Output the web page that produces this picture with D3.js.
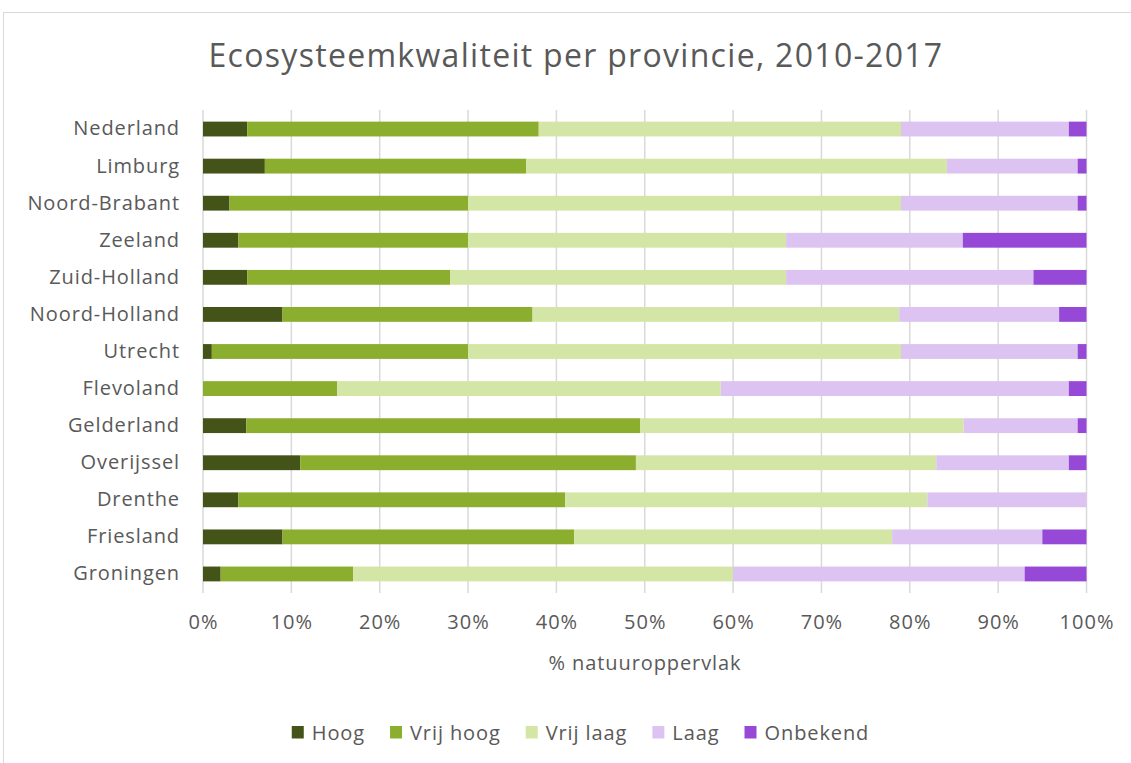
<!DOCTYPE html>
<html>
<head>
<meta charset="utf-8">
<script src="https://cdn.jsdelivr.net/npm/d3@7"></script>
<style>
  body { margin: 0; background: #fff; }
  text { font-family: "Open Sans", "Noto Sans", sans-serif; fill: #595959; }
</style>
</head>
<body>
<svg id="chart" width="1131" height="763"></svg>
<script>
// provinces, top to bottom
var provinces = ["Nederland", "Limburg", "Noord-Brabant", "Zeeland", "Zuid-Holland",
  "Noord-Holland", "Utrecht", "Flevoland", "Gelderland", "Overijssel", "Drenthe",
  "Friesland", "Groningen"];
var classes = ["Hoog", "Vrij hoog", "Vrij laag", "Laag", "Onbekend"];
var colors = ["#445419", "#8bae2f", "#d4e6a5", "#dcc3f1", "#9549d6"];
var tickValues = [0, 10, 20, 30, 40, 50, 60, 70, 80, 90, 100];

// % natuuroppervlak per class
var hoog     = [5, 7, 3, 4, 5, 9, 1, 0, 4.9, 11, 4, 9, 2];
var vrijHoog = [33, 29.6, 27, 26, 23, 28.3, 29, 15.2, 44.6, 38, 37, 33, 15];
var vrijLaag = [41, 47.6, 49, 36, 38, 41.5, 49, 43.4, 36.6, 34, 41, 36, 43];
var laag     = [19, 14.8, 20, 20, 28, 18.1, 20, 39.4, 12.9, 15, 18, 17, 33];
var onbekend = [2, 1, 1, 14, 6, 3.1, 1, 2, 1, 2, 0, 5, 7];

var series = [hoog, vrijHoog, vrijLaag, laag, onbekend];
var table = provinces.map(function(p, i) {
  var row = { provincie: p };
  classes.forEach(function(c, k) { row[c] = series[k][i]; });
  return row;
});

var svg = d3.select("#chart");

// chart frame
svg.append("rect")
  .attr("x", 3.5).attr("y", 12.5)
  .attr("width", 1200).attr("height", 800)
  .attr("fill", "none").attr("stroke", "#d9d9d9");

svg.append("text")
  .attr("x", 576).attr("y", 67)
  .attr("text-anchor", "middle")
  .style("font-size", "32px")
  .style("letter-spacing", "1.3px")
  .text("Ecosysteemkwaliteit per provincie, 2010-2017");

var x = d3.scaleLinear().domain([0, 100]).range([203, 1086.5]);
var y = d3.scaleBand().domain(provinces).range([110.5, 592.5]).paddingInner(0.6).paddingOuter(0.3);

// gridlines
svg.append("g").selectAll("line")
  .data(tickValues)
  .enter().append("line")
  .attr("x1", function(d) { return x(d); })
  .attr("x2", function(d) { return x(d); })
  .attr("y1", 110).attr("y2", 593)
  .attr("stroke", "#d9d9d9").attr("stroke-width", 1.5);

var stack = d3.stack().keys(classes);
var layers = stack(table);

svg.append("g").selectAll("g")
  .data(layers)
  .enter().append("g")
  .attr("fill", function(d, i) { return colors[i]; })
  .selectAll("rect")
  .data(function(d) { return d; })
  .enter().append("rect")
  .attr("x", function(d) { return x(d[0]); })
  .attr("width", function(d) { return x(d[1]) - x(d[0]); })
  .attr("y", function(d) { return y(d.data.provincie); })
  .attr("height", y.bandwidth());

// category axis
var yAxis = svg.append("g")
  .attr("transform", "translate(203,0)")
  .call(d3.axisLeft(y).tickSize(0).tickPadding(23));
yAxis.select(".domain").remove();
yAxis.selectAll("text").style("font-size", "20px").style("letter-spacing", "0.9px")
  .attr("fill", "#595959");

// value axis
var xAxis = svg.append("g")
  .attr("transform", "translate(0,593)")
  .call(d3.axisBottom(x).tickValues(tickValues).tickSize(0).tickPadding(22)
    .tickFormat(function(d) { return d + "%"; }));
xAxis.select(".domain").remove();
xAxis.selectAll("text").style("font-size", "20px").style("letter-spacing", "1px")
  .attr("fill", "#595959");

svg.append("text")
  .attr("x", 645).attr("y", 670)
  .attr("text-anchor", "middle")
  .style("font-size", "20px")
  .style("letter-spacing", "0.9px")
  .text("% natuuroppervlak");

// legend
var legend = svg.append("g");
var items = legend.selectAll("g")
  .data(classes)
  .enter().append("g");
items.append("rect")
  .attr("width", 12).attr("height", 12.5)
  .attr("y", 726)
  .attr("fill", function(d, i) { return colors[i]; });
items.append("text")
  .attr("x", 20).attr("y", 740)
  .style("font-size", "20px")
  .style("letter-spacing", "0.9px")
  .text(function(d) { return d; });

var offset = 0, gap = 25;
items.each(function() {
  var w = this.querySelector("text").getComputedTextLength() + 20;
  d3.select(this).attr("data-w", w);
});
var total = 0;
items.each(function() { total += +this.getAttribute("data-w") + gap; });
total -= gap;
offset = 580.5 - total / 2;
items.each(function() {
  d3.select(this).attr("transform", "translate(" + offset + ",0)");
  offset += +this.getAttribute("data-w") + gap;
});
</script>
</body>
</html>
